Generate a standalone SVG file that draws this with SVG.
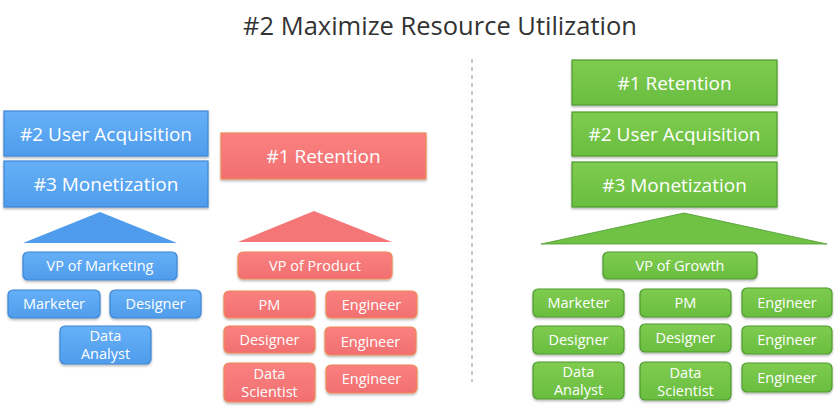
<svg xmlns="http://www.w3.org/2000/svg" width="837" height="418" viewBox="0 0 837 418">
<defs>
<linearGradient id="gb" x1="0" y1="0" x2="0" y2="1"><stop offset="0" stop-color="#66b0f7"/><stop offset="1" stop-color="#4f9cec"/></linearGradient>
<linearGradient id="gr" x1="0" y1="0" x2="0" y2="1"><stop offset="0" stop-color="#fa8180"/><stop offset="1" stop-color="#f26f70"/></linearGradient>
<linearGradient id="gg" x1="0" y1="0" x2="0" y2="1"><stop offset="0" stop-color="#7fcc50"/><stop offset="1" stop-color="#69bd3f"/></linearGradient>
<filter id="sh" x="-10%" y="-20%" width="120%" height="150%"><feDropShadow dx="0" dy="1.5" stdDeviation="1.2" flood-color="#000" flood-opacity="0.3"/></filter>
</defs>
<style>
text{font-family:"Open Sans","Liberation Sans",sans-serif;fill:#fff;text-anchor:middle}
.title{fill:#333;font-size:25.5px}
.big{font-size:19px}
.sm{font-size:14.5px}
.b{fill:url(#gb);stroke:#3e86d6;stroke-width:1.2;filter:url(#sh)}
.r{fill:url(#gr);stroke:#ee8a55;stroke-width:1.2;filter:url(#sh)}
.g{fill:url(#gg);stroke:#4f9a30;stroke-width:1.2;filter:url(#sh)}
.tb{fill:#4f9cec}
.tr{fill:#f47676}
.tg{fill:#6fc243;stroke:#4f9a30;stroke-width:0.8}
</style>
<rect width="837" height="418" fill="#fff"/>
<text class="title" x="440" y="35">#2 Maximize Resource Utilization</text>
<g id="connectors">
<line x1="472" y1="59" x2="472" y2="382" stroke="#b8b8b8" stroke-width="1.5" stroke-dasharray="4 4"/>
</g>
<!-- Blue -->
<g id="b-ua"><rect class="b" x="4" y="111" width="204" height="45"/><text class="big" x="106" y="141">#2 User Acquisition</text></g>
<g id="b-mon"><rect class="b" x="4" y="161" width="204" height="46"/><text class="big" x="106" y="191">#3 Monetization</text></g>
<g id="b-tri"><polygon class="tb" points="100,212 177,243 23,243"/></g>
<g id="b-vp"><rect class="b" x="23" y="252" width="154" height="28" rx="5"/><text class="sm" x="100" y="271">VP of Marketing</text></g>
<g id="b-mk"><rect class="b" x="8" y="290" width="92" height="28" rx="5"/><text class="sm" x="54" y="309">Marketer</text></g>
<g id="b-ds"><rect class="b" x="110" y="290" width="91" height="28" rx="5"/><text class="sm" x="155.5" y="309">Designer</text></g>
<g id="b-da"><rect class="b" x="60" y="326" width="91" height="38" rx="5"/><text class="sm" x="105.5" y="341">Data</text><text class="sm" x="105.5" y="359">Analyst</text></g>
<!-- Red -->
<g id="r-ret"><rect class="r" x="221" y="133" width="205" height="46"/><text class="big" x="323.5" y="163">#1 Retention</text></g>
<g id="r-tri"><polygon class="tr" points="314,211 392,242 238,242"/></g>
<g id="r-vp"><rect class="r" x="238" y="252" width="154" height="27" rx="5"/><text class="sm" x="315" y="271">VP of Product</text></g>
<g id="r-pm"><rect class="r" x="224" y="291" width="91" height="27" rx="5"/><text class="sm" x="269.5" y="310">PM</text></g>
<g id="r-e1"><rect class="r" x="326" y="291" width="91" height="27" rx="5"/><text class="sm" x="371.5" y="310">Engineer</text></g>
<g id="r-ds"><rect class="r" x="224" y="326" width="91" height="27" rx="5"/><text class="sm" x="269.5" y="345">Designer</text></g>
<g id="r-e2"><rect class="r" x="325" y="327" width="91" height="28" rx="5"/><text class="sm" x="370.5" y="347">Engineer</text></g>
<g id="r-dsc"><rect class="r" x="224" y="363" width="91" height="39" rx="5"/><text class="sm" x="269.5" y="379">Data</text><text class="sm" x="269.5" y="397">Scientist</text></g>
<g id="r-e3"><rect class="r" x="326" y="365" width="91" height="28" rx="5"/><text class="sm" x="371.5" y="384">Engineer</text></g>
<!-- Green -->
<g id="g-ret"><rect class="g" x="572" y="60" width="205" height="45"/><text class="big" x="674.5" y="90">#1 Retention</text></g>
<g id="g-ua"><rect class="g" x="572" y="112" width="205" height="44"/><text class="big" x="674.5" y="141">#2 User Acquisition</text></g>
<g id="g-mon"><rect class="g" x="572" y="162" width="205" height="45"/><text class="big" x="674.5" y="192">#3 Monetization</text></g>
<g id="g-tri"><polygon class="tg" points="684,213 827,244 541,244"/></g>
<g id="g-vp"><rect class="g" x="603" y="252" width="154" height="27" rx="5"/><text class="sm" x="680" y="271">VP of Growth</text></g>
<g id="g-mk"><rect class="g" x="533" y="289" width="91" height="28" rx="5"/><text class="sm" x="578.5" y="308">Marketer</text></g>
<g id="g-pm"><rect class="g" x="640" y="289" width="91" height="28" rx="5"/><text class="sm" x="685.5" y="308">PM</text></g>
<g id="g-e1"><rect class="g" x="742" y="288" width="90" height="29" rx="5"/><text class="sm" x="787" y="308">Engineer</text></g>
<g id="g-ds"><rect class="g" x="533" y="326" width="91" height="28" rx="5"/><text class="sm" x="578.5" y="345">Designer</text></g>
<g id="g-ds2"><rect class="g" x="640" y="324" width="91" height="28" rx="5"/><text class="sm" x="685.5" y="343">Designer</text></g>
<g id="g-e2"><rect class="g" x="742" y="326" width="90" height="28" rx="5"/><text class="sm" x="787" y="345">Engineer</text></g>
<g id="g-da"><rect class="g" x="533" y="362" width="91" height="37" rx="5"/><text class="sm" x="578.5" y="377">Data</text><text class="sm" x="578.5" y="395">Analyst</text></g>
<g id="g-dsc"><rect class="g" x="640" y="362" width="91" height="38" rx="5"/><text class="sm" x="685.5" y="378">Data</text><text class="sm" x="685.5" y="396">Scientist</text></g>
<g id="g-e3"><rect class="g" x="742" y="363" width="90" height="29" rx="5"/><text class="sm" x="787" y="383">Engineer</text></g>
</svg>
